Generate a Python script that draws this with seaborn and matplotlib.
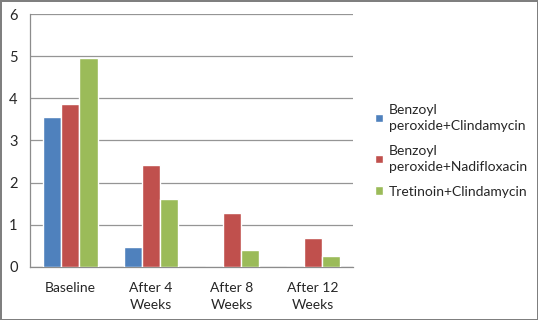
import matplotlib
matplotlib.use("Agg")
import matplotlib.pyplot as plt
import seaborn as sns
import pandas as pd

# data
periods = ["Baseline", "After 4\nWeeks", "After 8\nWeeks", "After 12\nWeeks"]
treatments = ["Benzoyl\nperoxide+Clindamycin", "Benzoyl\nperoxide+Nadifloxacin", "Tretinoin+Clindamycin"]
bpo_clinda = [3.55, 0.46, 0.0, 0.0]
bpo_nadi = [3.86, 2.42, 1.29, 0.69]
tret_clinda = [4.96, 1.60, 0.39, 0.26]
colors = ["#4F81BD", "#C0504D", "#9BBB59"]

rows = []
for name, vals in zip(treatments, [bpo_clinda, bpo_nadi, tret_clinda]):
    for p, v in zip(periods, vals):
        rows.append({"period": p, "treatment": name, "score": v})
df = pd.DataFrame(rows)

sns.set_style("white")
plt.rcParams["font.family"] = ["Lato", "DejaVu Sans"]

fig = plt.figure(figsize=(5.38, 3.2), dpi=100)
ax = fig.add_axes([0.056, 0.166, 0.600, 0.790])

sns.barplot(data=df, x="period", y="score", hue="treatment", palette=colors,
            width=0.67, saturation=1, ax=ax, zorder=3)

ax.set_ylim(0, 6)
ax.set_yticks(range(0, 7))
ax.set_xlim(-0.5, 3.5)
ax.yaxis.grid(True, color="#959595", linewidth=0.9, zorder=0)
ax.set_axisbelow(True)
ax.set_xlabel("")
ax.set_ylabel("")
for s in ["top", "right"]:
    ax.spines[s].set_visible(False)
for s in ["left", "bottom"]:
    ax.spines[s].set_color("#8c8c8c")
    ax.spines[s].set_linewidth(0.9)

ax.tick_params(axis="y", length=4, color="#8c8c8c", labelsize=10.5, pad=5)
ax.tick_params(axis="x", length=0, labelsize=10, pad=11)
for t in ax.get_xticklabels():
    t.set_linespacing(1.45)
# category separator ticks
ax.set_xticks([-0.5, 0.5, 1.5, 2.5, 3.5], minor=True)
ax.tick_params(axis="x", which="minor", length=4, color="#8c8c8c", direction="out")

leg = ax.legend(loc="center left", bbox_to_anchor=(1.03, 0.46), frameon=False,
                fontsize=10, handlelength=0.6, handleheight=0.6, handletextpad=0.4,
                labelspacing=0.9)
for t in leg.get_texts():
    t.set_linespacing(1.45)

fig.patch.set_edgecolor("#7f7f7f")
fig.patch.set_linewidth(2)
fig.savefig("out.png", dpi=100, edgecolor=fig.get_edgecolor())
